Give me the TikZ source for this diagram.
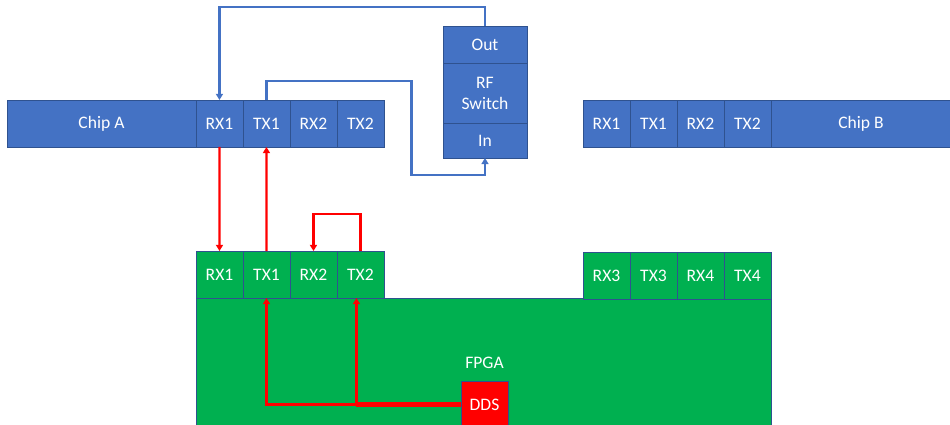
\documentclass[tikz,border=0pt]{standalone}
\usepackage{fontspec}
\setmainfont{Carlito}
\usetikzlibrary{arrows.meta, positioning, calc}
\definecolor{chipblue}{HTML}{4472C4}
\definecolor{chipedge}{HTML}{2F528F}
\definecolor{fpgagreen}{HTML}{00B050}
\definecolor{ddsred}{HTML}{FF0000}

\begin{document}
\begin{tikzpicture}[
    x=0.02cm, y=-0.02cm,
    node distance=0cm,
    port/.style={rectangle, draw=chipedge, fill=chipblue, text=white, minimum width=0.94cm, minimum height=0.94cm, inner sep=0pt, outer sep=0pt, font=\fontsize{10}{12}\selectfont},
    fport/.style={port, fill=fpgagreen},
    chip/.style={port, minimum width=3.6cm},
    sw/.style={port, minimum width=1.68cm, align=center},
    fpga/.style={rectangle, draw=chipedge, fill=fpgagreen, minimum width=11.5cm, minimum height=2.7cm, outer sep=0pt},
    dds/.style={port, fill=ddsred, minimum height=0.94cm},
    lbl/.style={text=white, inner sep=0pt, font=\fontsize{10}{12}\selectfont},
    bluearr/.style={-{Triangle[length=3.5pt, width=4pt]}, draw=chipblue, line width=1.3pt},
    redarr/.style={-{Triangle[length=3.5pt, width=4pt]}, draw=ddsred, line width=1.3pt},
    thickred/.style={draw=ddsred, line width=2.6pt}
]
\useasboundingbox (0,0) rectangle (950,425);

\node[chip, minimum width=3.78cm, anchor=north west] (chipA) at (7,100) {Chip A};
\node[port, right=of chipA] (aRX1) {RX1};
\node[port, right=of aRX1] (aTX1) {TX1};
\node[port, right=of aTX1] (aRX2) {RX2};
\node[port, right=of aRX2] (aTX2) {TX2};

\node[port, anchor=north west] (bRX1) at (583,100) {RX1};
\node[port, right=of bRX1] (bTX1) {TX1};
\node[port, right=of bTX1] (bRX2) {RX2};
\node[port, right=of bRX2] (bTX2) {TX2};
\node[chip, right=of bTX2] (chipB) {Chip B};

\node[sw, minimum height=0.74cm, anchor=north west] (swOut) at (443,26) {Out};
\node[sw, minimum height=1.2cm, below=of swOut] (swRF) {RF\\Switch};
\node[sw, minimum height=0.7cm, below=of swRF] (swIn) {In};

\node[fpga, anchor=north west] (fpgaBody) at (196,298) {};
\node[fport, anchor=south west] (fRX1) at (fpgaBody.north west) {RX1};
\node[fport, right=of fRX1] (fTX1) {TX1};
\node[fport, right=of fTX1] (fRX2) {RX2};
\node[fport, right=of fRX2] (fTX2) {TX2};
\node[fport, anchor=north west] (fRX3) at (583,252) {RX3};
\node[fport, right=of fRX3] (fTX3) {TX3};
\node[fport, right=of fTX3] (fRX4) {RX4};
\node[fport, right=of fRX4] (fTX4) {TX4};

\node[dds, anchor=north west] (dds) at (461,381) {DDS};
\node[lbl, above=0.24cm of dds] (fpgaLbl) {FPGA};
\coordinate (tx2Foot) at ([xshift=-0.08cm]fTX2.south);

\draw[bluearr] (swOut.north) -- ++(0,-19) -| (aRX1.north);
\draw[bluearr] (aTX1.north) -- ++(0,-19) -- ++(145,0) -- ++(0,94) -| (swIn.south);

\draw[redarr] (aRX1.south) -- (fRX1.north);
\draw[redarr] (fTX1.north) -- (aTX1.south);
\draw[redarr] (fTX2.north) -- ++(0,-37) -| (fRX2.north);

\draw[redarr] (dds.west) -| (fTX1.south);
\draw[redarr] (dds.west) -| (tx2Foot);
\draw[thickred] (dds.west) -- (dds.west -| tx2Foot);

\end{tikzpicture}
\end{document}
